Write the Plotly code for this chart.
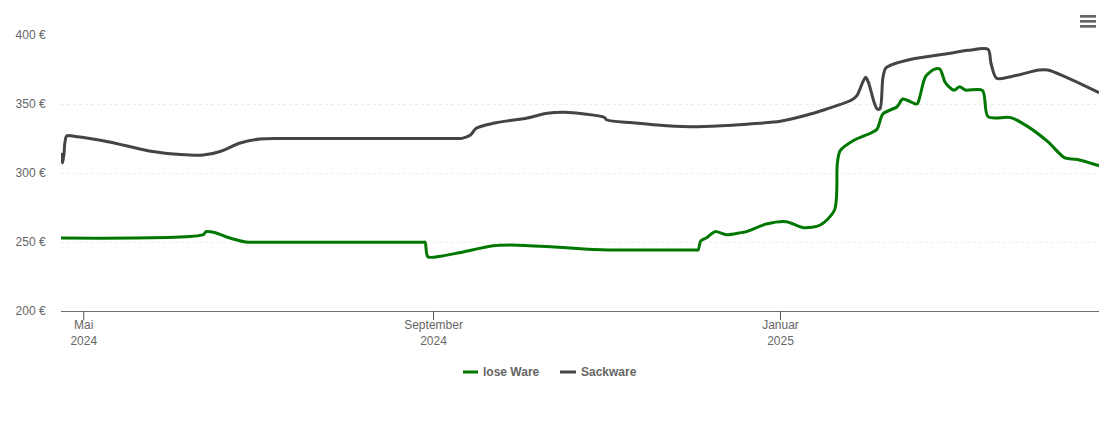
import plotly.graph_objects as go

# price history
dates_lose = ["2024-04-23", "2024-06-12", "2024-06-13", "2024-06-16", "2024-06-20", "2024-06-27", "2024-07-02", "2024-07-09",
              "2024-08-01", "2024-08-25", "2024-08-28", "2024-08-29", "2024-08-30", "2024-09-04", "2024-09-10", "2024-09-22",
              "2024-09-28", "2024-10-09", "2024-10-24", "2024-11-04", "2024-11-15", "2024-11-28", "2024-12-02", "2024-12-03", "2024-12-04",
              "2024-12-06", "2024-12-09", "2024-12-13", "2024-12-18", "2024-12-20", "2024-12-27", "2025-01-03",
              "2025-01-09", "2025-01-15", "2025-01-20", "2025-01-21", "2025-01-22", "2025-01-27", "2025-02-02",
              "2025-02-04", "2025-02-06", "2025-02-11", "2025-02-13", "2025-02-18", "2025-02-19", "2025-02-21",
              "2025-02-24", "2025-02-26", "2025-02-28", "2025-03-03", "2025-03-05", "2025-03-07", "2025-03-13",
              "2025-03-15", "2025-03-23", "2025-03-29", "2025-04-05", "2025-04-11", "2025-04-15", "2025-04-23"]
preis_lose = [252.9, 255.3, 257.5, 256.9, 253.8, 250.0, 249.8, 249.8,
              249.8, 249.8, 249.8, 249.8, 239.3, 239.9, 242.2, 247.3,
              247.8, 246.9, 245.0, 244.2, 244.2, 244.2, 244.2, 244.2, 250.9,
              253.1, 257.5, 255.3, 256.8, 257.5, 263.0, 264.7,
              260.4, 262.3, 273.2, 307.2, 316.2, 323.9, 329.2,
              331.9, 342.8, 348.0, 353.6, 350.0, 355.3, 369.8,
              375.1, 375.4, 365.4, 359.9, 362.5, 360.1, 359.9,
              340.8, 340.1, 333.6, 322.7, 310.9, 309.9, 305.3]

dates_sack = ["2024-04-23", "2024-04-23 12:00", "2024-04-24", "2024-04-25", "2024-04-28", "2024-05-10", "2024-05-24",
              "2024-06-04", "2024-06-12", "2024-06-18", "2024-06-25", "2024-07-02", "2024-07-09", "2024-08-01",
              "2024-09-01", "2024-09-08", "2024-09-11",
              "2024-09-14", "2024-09-16", "2024-09-22", "2024-10-04", "2024-10-11", "2024-10-17", "2024-10-24",
              "2024-10-31", "2024-11-01", "2024-11-10", "2024-11-22", "2024-12-03", "2024-12-15", "2024-12-21",
              "2025-01-01", "2025-01-10", "2025-01-17", "2025-01-26", "2025-01-28", "2025-01-30", "2025-01-31",
              "2025-02-01", "2025-02-03", "2025-02-04", "2025-02-05", "2025-02-06", "2025-02-07", "2025-02-09",
              "2025-02-16", "2025-02-28", "2025-03-08", "2025-03-15", "2025-03-16", "2025-03-18", "2025-03-23",
              "2025-04-02", "2025-04-05", "2025-04-11", "2025-04-23"]
preis_sack = [314.5, 307.2, 313.0, 326.8, 326.5, 322.5, 316.0,
              313.4, 313.0, 315.6, 321.7, 324.6, 325.0, 325.0,
              325.0, 325.0, 325.1,
              327.5, 332.4, 336.0, 339.9, 343.3, 344.0, 342.8,
              340.4, 338.4, 336.4, 334.3, 333.6, 334.6, 335.5,
              337.5, 341.8, 346.2, 352.9, 356.5, 366.2, 369.3,
              365.2, 350.7, 346.4, 346.6, 368.8, 376.0, 378.3,
              382.4, 386.2, 388.9, 389.6, 379.7, 368.6, 369.8,
              374.6, 374.6, 369.8, 358.2]

x_ticks = ["2024-05-01", "2024-09-01", "2025-01-01"]
x_labels = ["Mai<br>2024", "September<br>2024", "Januar<br>2025"]
y_ticks = [200, 250, 300, 350, 400]
y_labels = ["200 €", "250 €", "300 €", "350 €", "400 €"]

GREEN = "#007700"
GRAY = "#434348"
TEXT = "#666666"
FONT = "Liberation Sans"

W, H = 1110, 422
L, R, T, B = 61, 1099, 35, 311


def px(x):
    return (x - L) / (R - L)


def py(y):
    return (B - y) / (B - T)


fig = go.Figure()
fig.add_trace(go.Scatter(x=dates_lose, y=preis_lose, mode="lines", name="lose Ware",
                         line=dict(color=GREEN, width=3, shape="spline", smoothing=0.8)))
fig.add_trace(go.Scatter(x=dates_sack, y=preis_sack, mode="lines", name="Sackware",
                         line=dict(color=GRAY, width=3, shape="spline", smoothing=0.8)))

shapes = []
# menu button top right
for y0, y1 in [(15, 17.7), (20, 22.7), (25, 27.7)]:
    shapes.append(dict(type="rect", xref="paper", yref="paper", x0=px(1080), x1=px(1096), y0=py(y1), y1=py(y0),
                       fillcolor=TEXT, line=dict(width=0)))
# legend swatches
for x0, x1, c in [(463, 478, GREEN), (560, 576, GRAY)]:
    shapes.append(dict(type="line", xref="paper", yref="paper", x0=px(x0), x1=px(x1), y0=py(372), y1=py(372),
                       line=dict(color=c, width=3), layer="above"))
# x ticks are longer than the label gap plotly would leave
for t in x_ticks:
    shapes.append(dict(type="line", xref="x", yref="paper", x0=t, x1=t, y0=py(311), y1=py(320),
                       line=dict(color="#555555", width=1), layer="above"))

annotations = [
    dict(text="<b>lose Ware</b>", xref="paper", yref="paper", x=px(481), y=py(372), xanchor="left", yanchor="middle",
         showarrow=False, font=dict(family=FONT, size=12, color=TEXT)),
    dict(text="<b>Sackware</b>", xref="paper", yref="paper", x=px(579), y=py(372), xanchor="left", yanchor="middle",
         showarrow=False, font=dict(family=FONT, size=12, color=TEXT)),
]

fig.update_layout(
    width=W, height=H,
    margin=dict(l=L, r=W - R, t=T, b=H - B, pad=0),
    paper_bgcolor="white", plot_bgcolor="white",
    showlegend=False,
    shapes=shapes, annotations=annotations,
    font=dict(family=FONT, size=12, color=TEXT),
)
fig.update_xaxes(
    type="date", range=["2024-04-23", "2025-04-23"],
    tickmode="array", tickvals=x_ticks, ticktext=x_labels,
    ticks="outside", ticklen=3, tickcolor="rgba(0,0,0,0)",
    showgrid=False, showline=True, linecolor="#707070", linewidth=1,
    tickfont=dict(family=FONT, size=12, color=TEXT),
)
fig.update_yaxes(
    range=[200, 400],
    tickmode="array", tickvals=y_ticks, ticktext=y_labels,
    ticks="outside", ticklen=12, tickcolor="rgba(0,0,0,0)",
    showgrid=True, gridcolor="#eeeeee", griddash="dot", gridwidth=1,
    zeroline=False, showline=False,
    tickfont=dict(family=FONT, size=12, color=TEXT),
)

# page body has a default margin, the chart should sit flush
fig.write_html("out.html", config={"displayModeBar": False},
               post_script="document.body.style.margin='0';")
